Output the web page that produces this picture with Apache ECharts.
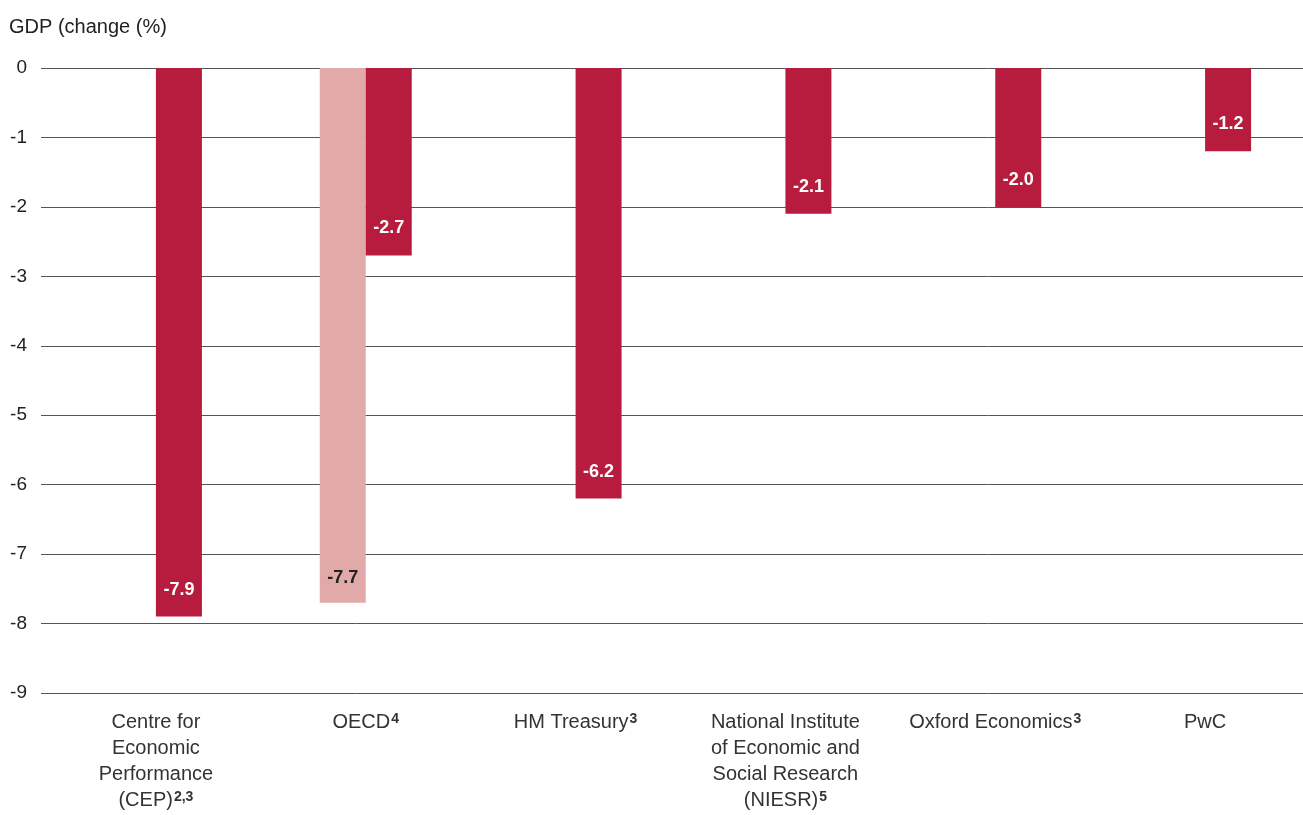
<!DOCTYPE html>
<html>
<head>
<meta charset="utf-8">
<script src="https://cdn.jsdelivr.net/npm/echarts@6/dist/echarts.min.js"></script>
<style>
html,body{margin:0;padding:0;background:#fff;overflow:hidden;}
#chart{width:1312px;height:815px;}
</style>
</head>
<body>
<div id="chart"></div>
<script>
var categories = [
  'Centre for\nEconomic\nPerformance\n(CEP){sup|2,3}',
  'OECD{sup|4}',
  'HM Treasury{sup|3}',
  'National Institute\nof Economic and\nSocial Research\n(NIESR){sup|5}',
  'Oxford Economics{sup|3}',
  'PwC'
];
var lightValues = [null, -7.7, null, null, null, null];
var darkValues = [-7.9, -2.7, -6.2, -2.1, -2.0, -1.2];
var yTicks = [0, -1, -2, -3, -4, -5, -6, -7, -8, -9];

var FONT = 'Liberation Sans, Arial, sans-serif';
var chart = echarts.init(document.getElementById('chart'));
chart.setOption({
  animation: false,
  title: {
    text: 'GDP (change (%)',
    left: 4, top: 12,
    textStyle: {fontFamily: FONT, fontSize: 20, fontWeight: 'normal', color: '#222'}
  },
  grid: [
    {left: 41, right: 9, top: 68, bottom: 122},
    {left: 51, right: 2, top: 68, bottom: 122}
  ],
  xAxis: [
    {gridIndex: 0, type: 'category', data: categories, show: false},
    {
      gridIndex: 1, type: 'category', data: categories,
      axisLine: {show: false}, axisTick: {show: false},
      axisLabel: {
        interval: 0, margin: 16,
        fontFamily: FONT, fontSize: 20, color: '#333', lineHeight: 26,
        rich: {sup: {fontFamily: FONT, fontSize: 14, fontWeight: 'bold', color: '#333', lineHeight: 26, padding: [0, 0, 5, 1]}}
      }
    }
  ],
  yAxis: [
    {
      gridIndex: 0, type: 'value', min: -9, max: 0, interval: 1,
      axisLine: {show: false}, axisTick: {show: false},
      axisLabel: {margin: 14, fontFamily: FONT, fontSize: 19, color: '#222',
        formatter: function (v) { return yTicks.indexOf(v) >= 0 ? String(v) : ''; }},
      splitLine: {lineStyle: {color: '#555', width: 1}}
    },
    {gridIndex: 1, type: 'value', min: -9, max: 0, interval: 1, show: false, splitLine: {show: false}}
  ],
  series: [
    {
      type: 'bar', xAxisIndex: 1, yAxisIndex: 1, data: lightValues,
      barWidth: 46, barGap: '0%',
      itemStyle: {color: '#E1AAA9'},
      label: {show: true, position: 'insideBottom', distance: 16,
        fontFamily: FONT, fontSize: 18, fontWeight: 'bold', color: '#222',
        formatter: function (p) { return p.value.toFixed(1); }}
    },
    {
      type: 'bar', xAxisIndex: 1, yAxisIndex: 1, data: darkValues,
      barWidth: 46, barGap: '0%',
      itemStyle: {color: '#B71C3E'},
      label: {show: true, position: 'insideBottom', distance: 18,
        fontFamily: FONT, fontSize: 18, fontWeight: 'bold', color: '#fff',
        formatter: function (p) { return p.value.toFixed(1); }}
    }
  ]
});
</script>
</body>
</html>
